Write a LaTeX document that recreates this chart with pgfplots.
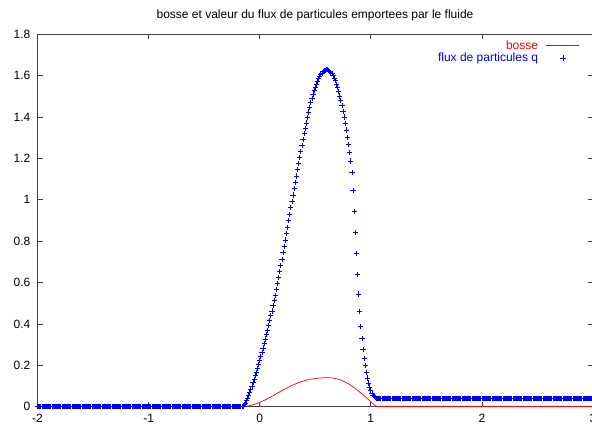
\documentclass[border=0pt]{standalone}
\usepackage{fontspec}
\setmainfont{Liberation Sans}
\usepackage{pgfplots}
\pgfplotsset{compat=1.18}

\begin{document}
\fontsize{12}{14}\selectfont
\begin{tikzpicture}
\begin{axis}[
  at={(37.5pt,18.3pt)}, anchor=south west,
  scale only axis, width=555.5pt, height=372.4pt,
  xmin=-2, xmax=3, ymin=0, ymax=1.8,
  xtick={-2,-1,0,1,2,3},
  xticklabels={-2,-1,0,1,2,3},
  ytick={0,0.2,0.4,0.6,0.8,1,1.2,1.4,1.6,1.8},
  yticklabels={0,0.2,0.4,0.6,0.8,1,1.2,1.4,1.6,1.8},
  tick align=inside, major tick length=5pt,
  axis line style={black!75, line width=0.8pt},
  tick style={black!75, line width=0.8pt},
  xticklabel style={yshift=-3pt},
  yticklabel style={xshift=-3pt},
  clip=false,
  legend plot pos=right,
  legend cell align=right,
  legend image code/.code={\draw[mark repeat=2, mark phase=2, #1]
    plot coordinates {(0pt,0pt) (16.5pt,0pt) (33pt,0pt)};},
  legend style={at={(rel axis cs:0.9766,0.987)}, anchor=north east,
    draw=none, fill=none, inner sep=0pt, row sep=0pt, column sep=7pt,
    nodes={inner sep=1pt}},
]
% bump profile (bosse)
\addplot[red, line width=0.7pt, forget plot] coordinates {(-2,0) (-0.15,0)};
\addplot[red, line width=0.7pt, smooth, legend image post style={draw=red}]
  coordinates {
  (-0.15,0)(-0.10,0.004)(-0.05,0.011)(0.00,0.021)(0.05,0.033)(0.10,0.047)
  (0.15,0.062)(0.20,0.078)(0.25,0.092)(0.30,0.105)(0.35,0.116)(0.40,0.125)
  (0.45,0.132)(0.50,0.136)(0.55,0.139)(0.60,0.140)(0.65,0.139)(0.70,0.134)
  (0.75,0.124)(0.80,0.110)(0.85,0.092)(0.90,0.071)(0.95,0.048)(1.00,0.024)
  (1.04,0.005)(1.06,0)};
\addlegendentry{\textcolor{red}{bosse}}
\addplot[red, line width=0.7pt, forget plot] coordinates {(1.06,0) (3,0)};

% particle flux q
\addplot[blue, only marks, mark=+, mark size=2.6pt, line width=0.8pt]
  coordinates {
  (-2.00,0)(-1.99,0)(-1.98,0)(-1.97,0)(-1.96,0)(-1.95,0)(-1.94,0)(-1.93,0)(-1.92,0)(-1.91,0)
  (-1.90,0)(-1.89,0)(-1.88,0)(-1.87,0)(-1.86,0)(-1.85,0)(-1.84,0)(-1.83,0)(-1.82,0)(-1.81,0)
  (-1.80,0)(-1.79,0)(-1.78,0)(-1.77,0)(-1.76,0)(-1.75,0)(-1.74,0)(-1.73,0)(-1.72,0)(-1.71,0)
  (-1.70,0)(-1.69,0)(-1.68,0)(-1.67,0)(-1.66,0)(-1.65,0)(-1.64,0)(-1.63,0)(-1.62,0)(-1.61,0)
  (-1.60,0)(-1.59,0)(-1.58,0)(-1.57,0)(-1.56,0)(-1.55,0)(-1.54,0)(-1.53,0)(-1.52,0)(-1.51,0)
  (-1.50,0)(-1.49,0)(-1.48,0)(-1.47,0)(-1.46,0)(-1.45,0)(-1.44,0)(-1.43,0)(-1.42,0)(-1.41,0)
  (-1.40,0)(-1.39,0)(-1.38,0)(-1.37,0)(-1.36,0)(-1.35,0)(-1.34,0)(-1.33,0)(-1.32,0)(-1.31,0)
  (-1.30,0)(-1.29,0)(-1.28,0)(-1.27,0)(-1.26,0)(-1.25,0)(-1.24,0)(-1.23,0)(-1.22,0)(-1.21,0)
  (-1.20,0)(-1.19,0)(-1.18,0)(-1.17,0)(-1.16,0)(-1.15,0)(-1.14,0)(-1.13,0)(-1.12,0)(-1.11,0)
  (-1.10,0)(-1.09,0)(-1.08,0)(-1.07,0)(-1.06,0)(-1.05,0)(-1.04,0)(-1.03,0)(-1.02,0)(-1.01,0)
  (-1.00,0)(-0.99,0)(-0.98,0)(-0.97,0)(-0.96,0)(-0.95,0)(-0.94,0)(-0.93,0)(-0.92,0)(-0.91,0)
  (-0.90,0)(-0.89,0)(-0.88,0)(-0.87,0)(-0.86,0)(-0.85,0)(-0.84,0)(-0.83,0)(-0.82,0)(-0.81,0)
  (-0.80,0)(-0.79,0)(-0.78,0)(-0.77,0)(-0.76,0)(-0.75,0)(-0.74,0)(-0.73,0)(-0.72,0)(-0.71,0)
  (-0.70,0)(-0.69,0)(-0.68,0)(-0.67,0)(-0.66,0)(-0.65,0)(-0.64,0)(-0.63,0)(-0.62,0)(-0.61,0)
  (-0.60,0)(-0.59,0)(-0.58,0)(-0.57,0)(-0.56,0)(-0.55,0)(-0.54,0)(-0.53,0)(-0.52,0)(-0.51,0)
  (-0.50,0)(-0.49,0)(-0.48,0)(-0.47,0)(-0.46,0)(-0.45,0)(-0.44,0)(-0.43,0)(-0.42,0)(-0.41,0)
  (-0.40,0)(-0.39,0)(-0.38,0)(-0.37,0)(-0.36,0)(-0.35,0)(-0.34,0)(-0.33,0)(-0.32,0)(-0.31,0)
  (-0.30,0)(-0.29,0)(-0.28,0)(-0.27,0)(-0.26,0)(-0.25,0)(-0.24,0)(-0.23,0)(-0.22,0)(-0.21,0)
  (-0.20,0)(-0.19,0)(-0.18,0)(-0.17,0)
  (-0.16,0.000)(-0.15,0.003)(-0.14,0.009)(-0.13,0.018)(-0.12,0.029)(-0.11,0.042)
  (-0.10,0.055)(-0.09,0.070)(-0.08,0.085)(-0.07,0.100)(-0.06,0.116)(-0.05,0.133)
  (-0.04,0.150)(-0.03,0.167)(-0.02,0.185)(-0.01,0.204)
  (0.00,0.223)(0.01,0.243)(0.02,0.263)(0.03,0.284)(0.04,0.305)(0.05,0.327)(0.06,0.348)(0.07,0.370)(0.08,0.393)(0.09,0.416)
  (0.10,0.439)(0.11,0.463)(0.12,0.488)(0.13,0.513)(0.14,0.539)(0.15,0.566)(0.16,0.594)(0.17,0.623)(0.18,0.653)(0.19,0.683)
  (0.20,0.713)(0.21,0.744)(0.22,0.775)(0.23,0.806)(0.24,0.837)(0.25,0.868)(0.26,0.899)(0.27,0.930)(0.28,0.961)(0.29,0.992)
  (0.30,1.023)(0.31,1.054)(0.32,1.085)(0.33,1.115)(0.34,1.146)(0.35,1.176)(0.36,1.206)(0.37,1.235)(0.38,1.264)(0.39,1.292)
  (0.40,1.319)(0.41,1.345)(0.42,1.371)(0.43,1.398)(0.44,1.424)(0.45,1.448)(0.46,1.470)(0.47,1.491)(0.48,1.511)(0.49,1.529)
  (0.50,1.545)(0.51,1.560)(0.52,1.574)(0.53,1.586)(0.54,1.596)(0.55,1.605)(0.56,1.613)(0.57,1.619)(0.58,1.623)(0.59,1.626)
  (0.60,1.628)(0.61,1.628)(0.62,1.626)(0.63,1.622)(0.64,1.616)(0.65,1.609)(0.66,1.599)(0.67,1.588)(0.68,1.575)(0.69,1.559)
  (0.70,1.542)(0.71,1.523)(0.72,1.502)(0.73,1.480)(0.74,1.455)(0.75,1.428)(0.76,1.400)(0.77,1.369)(0.78,1.337)(0.79,1.303)
  (0.80,1.267)(0.81,1.229)(0.82,1.188)(0.83,1.132)(0.84,1.045)(0.85,0.945)(0.86,0.842)(0.87,0.740)(0.88,0.640)(0.89,0.545)
  (0.90,0.460)(0.91,0.388)(0.92,0.328)(0.93,0.278)(0.94,0.234)(0.95,0.198)(0.96,0.167)(0.97,0.139)(0.98,0.115)(0.99,0.095)
  (1.00,0.079)(1.01,0.066)(1.02,0.056)(1.03,0.048)(1.04,0.044)(1.05,0.041)
  (1.06,0.04)(1.07,0.04)(1.08,0.04)(1.09,0.04)
  (1.10,0.04)(1.11,0.04)(1.12,0.04)(1.13,0.04)(1.14,0.04)(1.15,0.04)(1.16,0.04)(1.17,0.04)(1.18,0.04)(1.19,0.04)
  (1.20,0.04)(1.21,0.04)(1.22,0.04)(1.23,0.04)(1.24,0.04)(1.25,0.04)(1.26,0.04)(1.27,0.04)(1.28,0.04)(1.29,0.04)
  (1.30,0.04)(1.31,0.04)(1.32,0.04)(1.33,0.04)(1.34,0.04)(1.35,0.04)(1.36,0.04)(1.37,0.04)(1.38,0.04)(1.39,0.04)
  (1.40,0.04)(1.41,0.04)(1.42,0.04)(1.43,0.04)(1.44,0.04)(1.45,0.04)(1.46,0.04)(1.47,0.04)(1.48,0.04)(1.49,0.04)
  (1.50,0.04)(1.51,0.04)(1.52,0.04)(1.53,0.04)(1.54,0.04)(1.55,0.04)(1.56,0.04)(1.57,0.04)(1.58,0.04)(1.59,0.04)
  (1.60,0.04)(1.61,0.04)(1.62,0.04)(1.63,0.04)(1.64,0.04)(1.65,0.04)(1.66,0.04)(1.67,0.04)(1.68,0.04)(1.69,0.04)
  (1.70,0.04)(1.71,0.04)(1.72,0.04)(1.73,0.04)(1.74,0.04)(1.75,0.04)(1.76,0.04)(1.77,0.04)(1.78,0.04)(1.79,0.04)
  (1.80,0.04)(1.81,0.04)(1.82,0.04)(1.83,0.04)(1.84,0.04)(1.85,0.04)(1.86,0.04)(1.87,0.04)(1.88,0.04)(1.89,0.04)
  (1.90,0.04)(1.91,0.04)(1.92,0.04)(1.93,0.04)(1.94,0.04)(1.95,0.04)(1.96,0.04)(1.97,0.04)(1.98,0.04)(1.99,0.04)
  (2.00,0.04)(2.01,0.04)(2.02,0.04)(2.03,0.04)(2.04,0.04)(2.05,0.04)(2.06,0.04)(2.07,0.04)(2.08,0.04)(2.09,0.04)
  (2.10,0.04)(2.11,0.04)(2.12,0.04)(2.13,0.04)(2.14,0.04)(2.15,0.04)(2.16,0.04)(2.17,0.04)(2.18,0.04)(2.19,0.04)
  (2.20,0.04)(2.21,0.04)(2.22,0.04)(2.23,0.04)(2.24,0.04)(2.25,0.04)(2.26,0.04)(2.27,0.04)(2.28,0.04)(2.29,0.04)
  (2.30,0.04)(2.31,0.04)(2.32,0.04)(2.33,0.04)(2.34,0.04)(2.35,0.04)(2.36,0.04)(2.37,0.04)(2.38,0.04)(2.39,0.04)
  (2.40,0.04)(2.41,0.04)(2.42,0.04)(2.43,0.04)(2.44,0.04)(2.45,0.04)(2.46,0.04)(2.47,0.04)(2.48,0.04)(2.49,0.04)
  (2.50,0.04)(2.51,0.04)(2.52,0.04)(2.53,0.04)(2.54,0.04)(2.55,0.04)(2.56,0.04)(2.57,0.04)(2.58,0.04)(2.59,0.04)
  (2.60,0.04)(2.61,0.04)(2.62,0.04)(2.63,0.04)(2.64,0.04)(2.65,0.04)(2.66,0.04)(2.67,0.04)(2.68,0.04)(2.69,0.04)
  (2.70,0.04)(2.71,0.04)(2.72,0.04)(2.73,0.04)(2.74,0.04)(2.75,0.04)(2.76,0.04)(2.77,0.04)(2.78,0.04)(2.79,0.04)
  (2.80,0.04)(2.81,0.04)(2.82,0.04)(2.83,0.04)(2.84,0.04)(2.85,0.04)(2.86,0.04)(2.87,0.04)(2.88,0.04)(2.89,0.04)
  (2.90,0.04)(2.91,0.04)(2.92,0.04)(2.93,0.04)(2.94,0.04)(2.95,0.04)(2.96,0.04)(2.97,0.04)(2.98,0.04)(2.99,0.04)
  (3.00,0.04)};
\addlegendentry{\textcolor{blue}{flux de particules q}}
\end{axis}
\node at (315pt,410pt) {bosse et valeur du flux de particules emportees par le fluide};
\pgfresetboundingbox
\useasboundingbox (0pt,0pt) rectangle (592pt,425pt);
\end{tikzpicture}
\end{document}
